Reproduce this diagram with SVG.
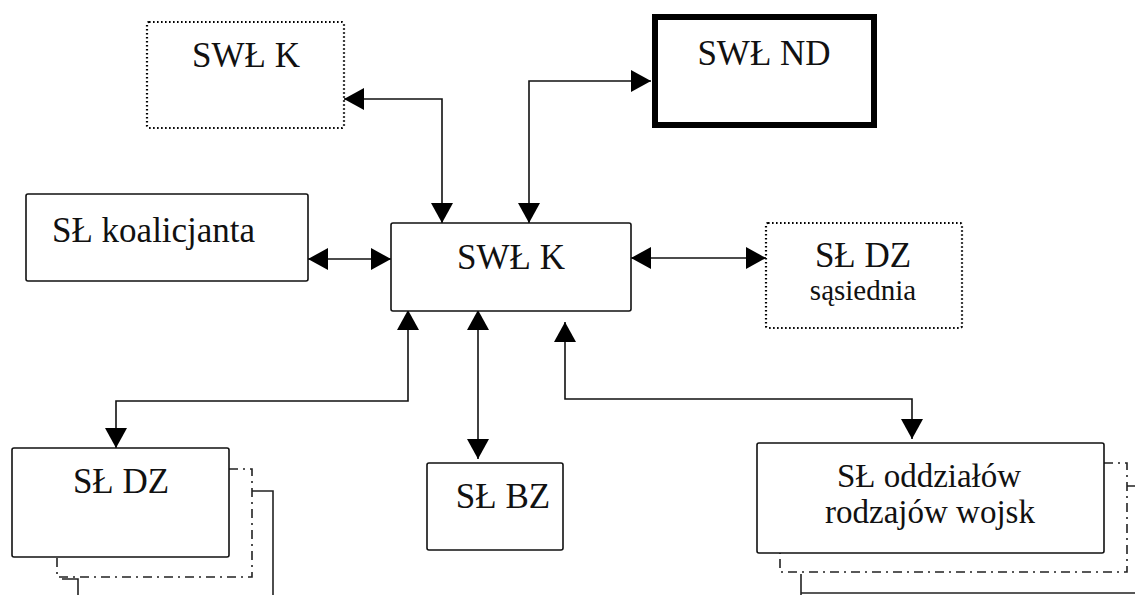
<svg xmlns="http://www.w3.org/2000/svg" width="1135" height="595" viewBox="0 0 1135 595">
  <style>
    .box { fill: #fff; stroke: #111; stroke-width: 1.6; }
    .dotted { fill: #fff; stroke: #000; stroke-width: 2.2; stroke-dasharray: 1.6 2.4; }
    .heavy { fill: #fff; stroke: #000; stroke-width: 6; }
    .dashdot { fill: none; stroke: #222; stroke-width: 1.6; stroke-dasharray: 9 5 2 5; }
    .back { fill: none; stroke: #222; stroke-width: 1.6; }
    .label { font-family: "Liberation Serif", "Times New Roman", serif; font-size: 35px; fill: #111; }
    .small { font-size: 29px; }
    .tight { font-size: 33px; }
    .link { fill: none; stroke: #111; stroke-width: 1.6; marker-start: url(#head); marker-end: url(#head); }
  </style>
  <defs>
    <marker id="head" viewBox="0 0 20 22" refX="20" refY="11" markerWidth="20" markerHeight="22" markerUnits="userSpaceOnUse" orient="auto-start-reverse">
      <path d="M0,0 L20,11 L0,22 Z" fill="#000"/>
    </marker>
  </defs>

  <!-- connectors -->
  <g id="connectors">
    <path class="link" d="M 344 99 H 442 V 223"/>
    <path class="link" d="M 529 223 V 81 H 651"/>
    <path class="link" d="M 308 259 H 391"/>
    <path class="link" d="M 631 258 H 766"/>
    <path class="link" d="M 408 310 V 401 H 116 V 448"/>
    <path class="link" d="M 478 310 V 459"/>
    <path class="link" d="M 565 322 V 399 H 912 V 439"/>
  </g>

  <!-- upper neighbour command -->
  <g id="swl-k-top">
    <rect class="dotted" x="147" y="22" width="197" height="106" rx="2"/>
    <text class="label" x="246" y="67" text-anchor="middle">SWŁ K</text>
  </g>

  <g id="swl-nd">
    <rect class="heavy" x="655" y="17" width="219" height="108"/>
    <text class="label" x="764" y="65" text-anchor="middle">SWŁ ND</text>
  </g>

  <g id="sl-koalicjanta">
    <rect class="box" x="26" y="194" width="282" height="87" rx="2"/>
    <text class="label" x="52" y="242">SŁ koalicjanta</text>
  </g>

  <g id="swl-k-center">
    <rect class="box" x="391" y="223" width="240" height="88" rx="2"/>
    <text class="label" x="511" y="269" text-anchor="middle">SWŁ K</text>
  </g>

  <g id="sl-dz-sasiednia">
    <rect class="dotted" x="766" y="223" width="196" height="105" rx="2"/>
    <text class="label" x="863" y="267" text-anchor="middle">SŁ DZ</text>
    <text class="label small" x="863" y="300" text-anchor="middle">sąsiednia</text>
  </g>

  <!-- stacked subordinate divisions -->
  <g id="sl-dz">
    <path class="back" d="M 62 579 H 78 V 595 M 252 491 H 273 V 595"/>
    <path class="dashdot" d="M 229 469 H 252 V 577 H 57 V 557"/>
    <rect class="box" x="12" y="448" width="217" height="109" rx="2"/>
    <text class="label" x="121" y="493" text-anchor="middle">SŁ DZ</text>
  </g>

  <g id="sl-bz">
    <rect class="box" x="427" y="463" width="136" height="87" rx="2"/>
    <text class="label" x="503" y="508" text-anchor="middle">SŁ BZ</text>
  </g>

  <g id="sl-oddzialow">
    <path class="back" d="M 801 595 V 574 M 801 593 H 1135 M 1127 486 H 1135"/>
    <path class="dashdot" d="M 1104 463 H 1127 V 572 H 780 V 553"/>
    <rect class="box" x="757" y="443" width="347" height="110" rx="2"/>
    <text class="label tight" x="929" y="487" text-anchor="middle">SŁ oddziałów</text>
    <text class="label tight" x="930" y="523" text-anchor="middle">rodzajów wojsk</text>
  </g>
</svg>
